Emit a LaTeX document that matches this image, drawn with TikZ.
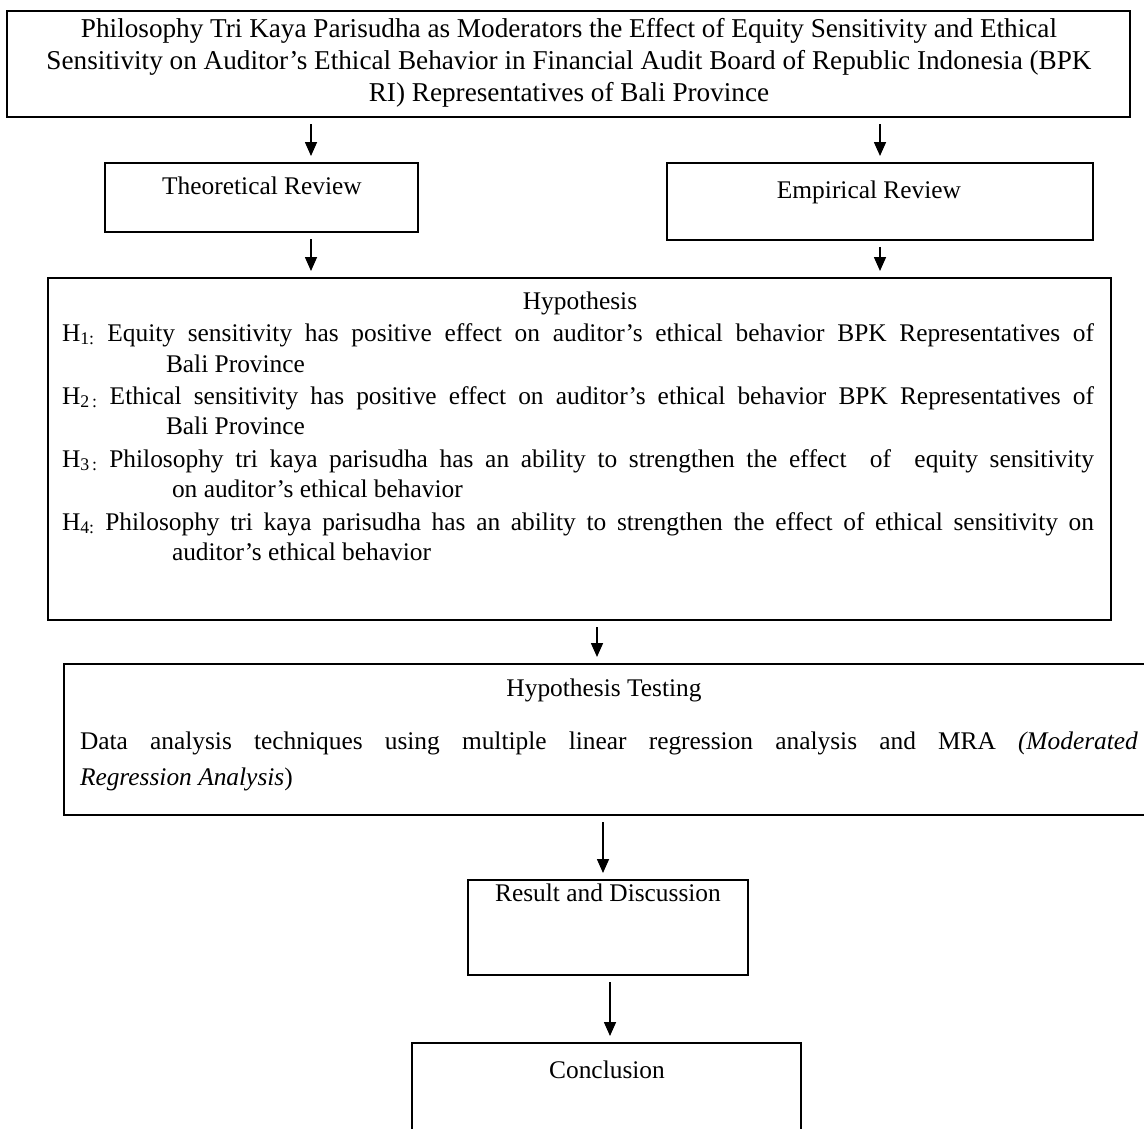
\documentclass[tikz,border=0pt]{standalone}
\usepackage{fontspec}
\setmainfont{Liberation Serif}
\usetikzlibrary{arrows.meta}
\newcommand\fs{\fontsize{25.4}{31.5}\selectfont}
\newcommand\fsbig{\fontsize{27.2}{32}\selectfont}
\tikzset{
  box/.style={draw, line width=1.6pt, inner sep=0pt, outer sep=0pt, anchor=north west},
  arr/.style={-{Triangle[width=12pt,length=14pt]}, line width=1.6pt, shorten <=7pt, shorten >=7pt},
  txt/.style={inner sep=0pt, outer sep=0pt, anchor=base, font=\fs},
  ltxt/.style={inner sep=0pt, outer sep=0pt, anchor=base west, font=\fs},
  ttxt/.style={inner sep=0pt, outer sep=0pt, anchor=base, font=\fsbig},
}
\begin{document}
\begin{tikzpicture}[x=1pt,y=-1pt]
\clip (0,0) rectangle (1144,1128);
\fill[white] (0,0) rectangle (1144,1128);
% boxes
\node[box, minimum width=1123pt, minimum height=106pt] (top) at (7,11) {};
\node[box, minimum width=313pt, minimum height=69pt] (theo) at (105,163) {};
\node[box, minimum width=426pt, minimum height=77pt] (emp) at (667,163) {};
\node[box, minimum width=1063pt, minimum height=342pt] (hyp) at (48,278) {};
\node[box, minimum width=1100pt, minimum height=151pt] (test) at (64,664) {};
\node[box, minimum width=280pt, minimum height=95pt] (res) at (468,880) {};
\node[box, minimum width=389pt, minimum height=120pt] (conc) at (412,1043) {};
% arrow columns
\coordinate (cA) at (311,0);
\coordinate (cB) at (880,0);
\coordinate (cC) at (597,0);
\coordinate (cD) at (603,0);
\coordinate (cE) at (610,0);
\draw[arr] (top.south -| cA) -- (theo.north -| cA);
\draw[arr] (top.south -| cB) -- (emp.north -| cB);
\draw[arr] (theo.south -| cA) -- (hyp.north -| cA);
\draw[arr] (emp.south -| cB) -- (hyp.north -| cB);
\draw[arr] (hyp.south -| cC) -- (test.north -| cC);
\draw[arr] (test.south -| cD) -- (res.north -| cD);
\draw[arr] (res.south -| cE) -- (conc.north -| cE);
% top text
\node[ttxt] (t1) at (569,37) {Philosophy Tri Kaya Parisudha as Moderators the Effect of Equity Sensitivity and Ethical};
\node[ttxt] (t2) at (569,69) {Sensitivity on Auditor’s Ethical Behavior in Financial Audit Board of Republic Indonesia (BPK};
\node[ttxt] (t3) at (569,101) {RI) Representatives of Bali Province};
\node[txt] (theot) at (262,194) {Theoretical Review};
\node[txt] (empt) at (869,198) {Empirical Review};
% hypothesis
\node[txt] (hypt) at (580,309) {Hypothesis};
\node[ltxt] (h1) at (62,341) {\hbox to 1032pt{H\textsubscript{1:} Equity sensitivity has positive effect on auditor’s ethical behavior BPK Representatives of}};
\node[ltxt] (h1b) at (166,372) {Bali Province};
\node[ltxt] (h2) at (62,404) {\hbox to 1032pt{H\textsubscript{2\,:} Ethical sensitivity has positive effect on auditor’s ethical behavior BPK Representatives of}};
\node[ltxt] (h2b) at (166,434) {Bali Province};
\node[ltxt] (h3) at (62,467) {\hbox to 1032pt{H\textsubscript{3\,:} Philosophy tri kaya parisudha has an ability to strengthen the effect \ of \ equity sensitivity}};
\node[ltxt] (h3b) at (172,497) {on auditor’s ethical behavior};
\node[ltxt] (h4) at (62,530) {\hbox to 1032pt{H\textsubscript{4:} Philosophy tri kaya parisudha has an ability to strengthen the effect of ethical sensitivity on}};
\node[ltxt] (h4b) at (172,560) {auditor’s ethical behavior};
% testing
\node[txt] (testt) at (604,696) {Hypothesis Testing};
\node[ltxt] (d1) at (80,749) {\hbox to 1058pt{Data analysis techniques using multiple linear regression analysis and MRA \textit{(Moderated}}};
\node[ltxt] (d2) at (80,785) {\textit{Regression Analysis})};
\node[txt] (rest) at (608,901) {Result and Discussion};
\node[txt] (conct) at (607,1078) {Conclusion};
\end{tikzpicture}
\end{document}
